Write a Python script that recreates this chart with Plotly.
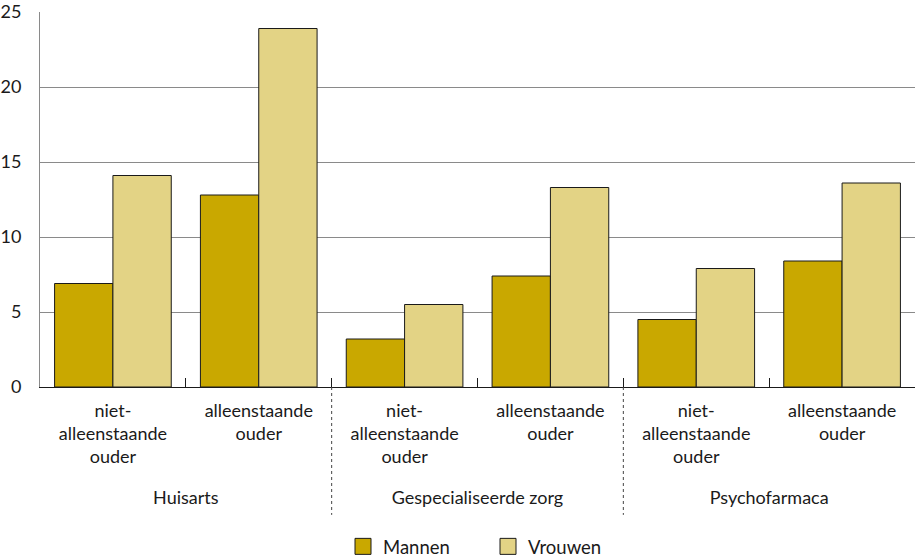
import plotly.graph_objects as go

groups = ["Huisarts", "Gespecialiseerde zorg", "Psychofarmaca"]
subcats = ["niet-<br>alleenstaande<br>ouder<br> ", "alleenstaande<br>ouder<br> <br> "]
mannen = [6.9, 12.8, 3.2, 7.4, 4.5, 8.4]
vrouwen = [14.1, 23.9, 5.5, 13.3, 7.9, 13.6]
series_names = ["Mannen", "Vrouwen"]
colors = ["#C9A800", "#E3D385"]
yticks = [0, 5, 10, 15, 20, 25]

x_outer = [g for g in groups for _ in subcats]
x_inner = [s for _ in groups for s in subcats]

FONT = "Lato"
fig = go.Figure()
for name, vals, col in zip(series_names, [mannen, vrouwen], colors):
    fig.add_trace(go.Bar(
        x=[x_outer, x_inner], y=vals, name=name, showlegend=False,
        marker=dict(color=col, line=dict(color="#1a1a1a", width=1)),
    ))
    fig.add_trace(go.Scatter(
        x=[[groups[0]], [subcats[0]]], y=[None], name=name, mode="markers",
        marker=dict(symbol="square", size=16, color=col,
                    line=dict(color="#1a1a1a", width=1)),
    ))

shapes = []
for i in range(1, len(groups)):
    shapes.append(dict(type="line", xref="paper", yref="paper",
                       x0=i / len(groups), x1=i / len(groups), y0=0, y1=-0.341,
                       line=dict(color="#444", width=1, dash="dot")))

fig.update_layout(
    width=917, height=558,
    margin=dict(l=40, r=2, t=12, b=171),
    plot_bgcolor="white", paper_bgcolor="white",
    font=dict(family=FONT, size=18, color="#1a1a1a"),
    barmode="group", bargap=0.2, bargroupgap=0,
    shapes=shapes,
    legend=dict(orientation="h", x=0.512, xanchor="center",
                yref="container", y=0.02, yanchor="middle",
                font=dict(size=18.5), entrywidth=100),
    xaxis=dict(type="multicategory", showline=True, linecolor="#1a1a1a",
               linewidth=1, ticks="inside", ticklen=9, tickcolor="#1a1a1a",
               showdividers=False, showgrid=False, automargin=False,
               ticklabelstandoff=7),
    yaxis=dict(range=[0, 25], tickvals=yticks, showgrid=True,
               gridcolor="#8a8a8a", gridwidth=1, zeroline=False,
               showline=True, linecolor="#8a8a8a", ticks="",
               ticklabelstandoff=14, automargin=False),
)
fig.write_html("out.html", config={"displayModeBar": False},
               post_script="document.body.style.margin='0';")
